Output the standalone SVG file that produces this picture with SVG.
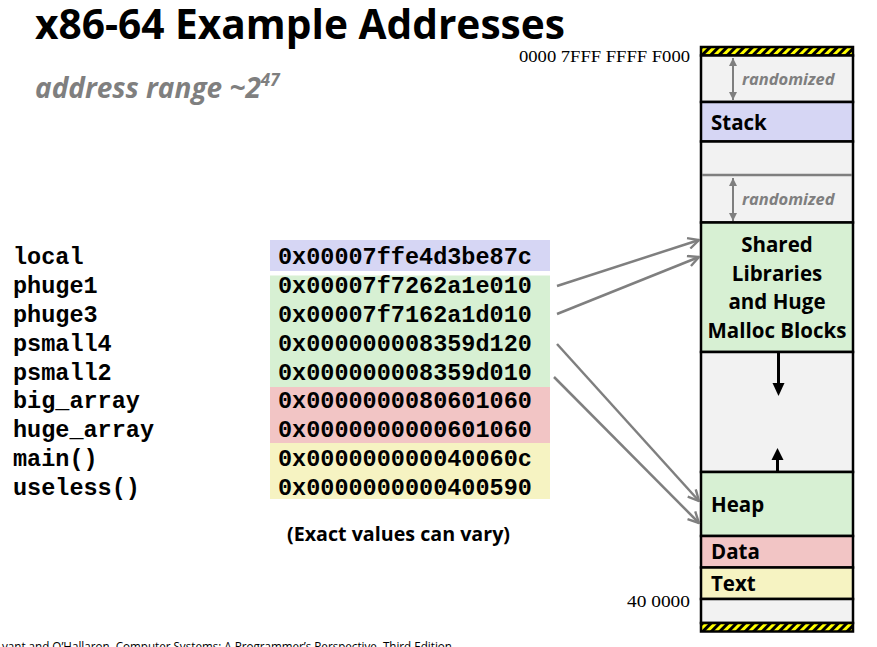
<svg xmlns="http://www.w3.org/2000/svg" width="877" height="647" viewBox="0 0 877 647">
<style>
  .title { font-family: "Open Sans", "Liberation Sans", sans-serif; font-weight: 700; fill: #000; }
  .sub { font-family: "Open Sans", "Liberation Sans", sans-serif; font-weight: 700; font-style: italic; fill: #7f7f7f; }
  .mono { font-family: "Liberation Mono", "Courier New", monospace; font-weight: 700; font-size: 23.5px; fill: #000; }
  .seg { font-family: "Open Sans", "Liberation Sans", sans-serif; font-weight: 700; font-size: 20.5px; fill: #000; }
  .rnd { font-family: "Open Sans", "Liberation Sans", sans-serif; font-weight: 700; font-style: italic; font-size: 16.5px; fill: #7f7f7f; }
  .addr { font-family: "Liberation Serif", "DejaVu Serif", serif; font-size: 17px; fill: #000; }
  .cell { stroke: #000; stroke-width: 2.5; }
  .free { fill: #f2f2f2; }
  .conn { stroke: #7f7f7f; stroke-width: 2.5; fill: none; marker-end: url(#open); }
  .rarrow { stroke: #7f7f7f; stroke-width: 2; fill: none; marker-start: url(#small); marker-end: url(#small); }
</style>
<defs>
  <pattern id="hatch" width="6" height="6" patternUnits="userSpaceOnUse" patternTransform="rotate(45)">
    <rect width="6" height="6" fill="#ffff00"/>
    <rect width="3" height="6" fill="#000"/>
  </pattern>
  <marker id="open" viewBox="0 0 12 12" refX="11" refY="6" markerWidth="13" markerHeight="13" markerUnits="userSpaceOnUse" orient="auto">
    <path d="M1,1 L11,6 L1,11" fill="none" stroke="#7f7f7f" stroke-width="2.2"/>
  </marker>
  <marker id="small" viewBox="0 0 10 10" refX="9" refY="5" markerWidth="10" markerHeight="10" markerUnits="userSpaceOnUse" orient="auto-start-reverse">
    <path d="M1,1 L9,5 L1,9 Z" fill="#7f7f7f" stroke="none"/>
  </marker>
</defs>
<rect width="877" height="647" fill="#ffffff"/>

<g id="title">
  <text class="title" x="35" y="39" font-size="41" textLength="530" lengthAdjust="spacingAndGlyphs">x86-64 Example Addresses</text>
</g>
<g id="subtitle">
  <text class="sub" x="35" y="98" font-size="28">address range ~2<tspan font-size="17" dy="-12">47</tspan></text>
</g>

<g id="variables">
  <text class="mono" x="13" y="264">local</text>
  <text class="mono" x="13" y="293">phuge1</text>
  <text class="mono" x="13" y="322">phuge3</text>
  <text class="mono" x="13" y="351">psmall4</text>
  <text class="mono" x="13" y="380">psmall2</text>
  <text class="mono" x="13" y="408">big_array</text>
  <text class="mono" x="13" y="437">huge_array</text>
  <text class="mono" x="13" y="466">main()</text>
  <text class="mono" x="13" y="495">useless()</text>
</g>

<g id="addresses">
  <rect x="270" y="240" width="280" height="31" fill="#d6d6f4"/>
  <rect x="270" y="275.5" width="280" height="111.5" fill="#d7f0d3"/>
  <rect x="270" y="387" width="280" height="56" fill="#f2c5c5"/>
  <rect x="270" y="443" width="280" height="56" fill="#f6f3c2"/>
  <text class="mono" x="278" y="264">0x00007ffe4d3be87c</text>
  <text class="mono" x="278" y="293">0x00007f7262a1e010</text>
  <text class="mono" x="278" y="322">0x00007f7162a1d010</text>
  <text class="mono" x="278" y="351">0x000000008359d120</text>
  <text class="mono" x="278" y="380">0x000000008359d010</text>
  <text class="mono" x="278" y="408">0x0000000080601060</text>
  <text class="mono" x="278" y="437">0x0000000000601060</text>
  <text class="mono" x="278" y="466">0x000000000040060c</text>
  <text class="mono" x="278" y="495">0x0000000000400590</text>
</g>

<g id="note">
  <text x="287" y="541" font-family="Open Sans, Liberation Sans, sans-serif" font-weight="700" font-size="20" textLength="223" lengthAdjust="spacingAndGlyphs">(Exact values can vary)</text>
</g>

<g id="memory">
  <g id="top-guard">
    <rect class="cell" x="701" y="47" width="152" height="8.5" fill="url(#hatch)"/>
  </g>
  <g id="rand1">
    <rect class="cell free" x="701" y="55.5" width="152" height="46.5"/>
    <line class="rarrow" x1="733" y1="58" x2="733" y2="100"/>
    <text class="rnd" x="742" y="85">randomized</text>
  </g>
  <g id="stack">
    <rect class="cell" x="701" y="102" width="152" height="39.5" fill="#d6d6f4"/>
    <text class="seg" x="711" y="130">Stack</text>
  </g>
  <g id="gap1">
    <rect class="cell free" x="701" y="141.5" width="152" height="81"/>
    <line x1="702" y1="175" x2="852" y2="175" stroke="#7f7f7f" stroke-width="2.5"/>
    <line class="rarrow" x1="733" y1="178" x2="733" y2="221"/>
    <text class="rnd" x="742" y="205">randomized</text>
  </g>
  <g id="shared">
    <rect class="cell" x="701" y="222.5" width="152" height="129.5" fill="#d7f0d3"/>
    <text class="seg" x="777" y="252" text-anchor="middle">Shared</text>
    <text class="seg" x="777" y="281" text-anchor="middle">Libraries</text>
    <text class="seg" x="777" y="309" text-anchor="middle">and Huge</text>
    <text class="seg" x="777" y="338" text-anchor="middle">Malloc Blocks</text>
  </g>
  <g id="gap2">
    <rect class="cell free" x="701" y="352" width="152" height="120"/>
    <line x1="778.5" y1="352" x2="778.5" y2="384" stroke="#000" stroke-width="3"/>
    <path d="M772.5,383 L784.5,383 L778.5,396 Z" fill="#000"/>
    <line x1="777.5" y1="459" x2="777.5" y2="472" stroke="#000" stroke-width="3"/>
    <path d="M771.5,460 L783.5,460 L777.5,448 Z" fill="#000"/>
  </g>
  <g id="heap">
    <rect class="cell" x="701" y="472" width="152" height="64" fill="#d7f0d3"/>
    <text class="seg" x="711" y="512">Heap</text>
  </g>
  <g id="data">
    <rect class="cell" x="701" y="536" width="152" height="31.5" fill="#f2c5c5"/>
    <text class="seg" x="711" y="559">Data</text>
  </g>
  <g id="textseg">
    <rect class="cell" x="701" y="567.5" width="152" height="31.5" fill="#f6f3c2"/>
    <text class="seg" x="711" y="591">Text</text>
  </g>
  <g id="gap3">
    <rect class="cell free" x="701" y="599" width="152" height="24"/>
  </g>
  <g id="bottom-guard">
    <rect class="cell" x="701" y="623" width="152" height="8.5" fill="url(#hatch)"/>
  </g>
  <text class="addr" x="690" y="62" text-anchor="end" textLength="171" lengthAdjust="spacingAndGlyphs">0000 7FFF FFFF F000</text>
  <text class="addr" x="690" y="607" text-anchor="end" textLength="63" lengthAdjust="spacingAndGlyphs">40 0000</text>
</g>

<g id="connectors">
  <line class="conn" x1="557" y1="286" x2="699" y2="240"/>
  <line class="conn" x1="557" y1="314" x2="699" y2="257"/>
  <line class="conn" x1="557" y1="344" x2="699" y2="501"/>
  <line class="conn" x1="554" y1="377" x2="699" y2="523"/>
</g>

<g id="footer">
  <text x="2" y="651" font-family="Open Sans, Liberation Sans, sans-serif" font-size="13" textLength="450" lengthAdjust="spacingAndGlyphs">yant and O’Hallaron, Computer Systems: A Programmer’s Perspective, Third Edition</text>
</g>
</svg>
